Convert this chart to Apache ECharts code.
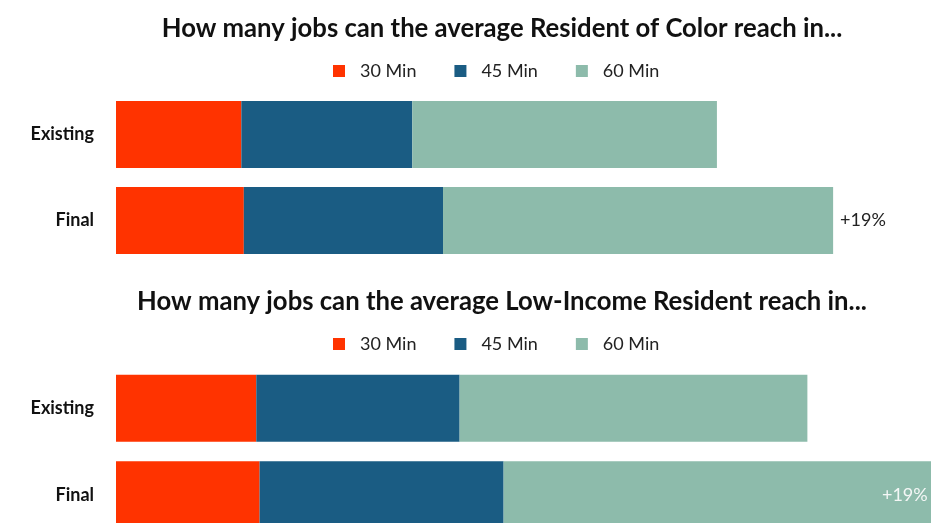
<!DOCTYPE html>
<html>
<head>
<meta charset="utf-8">
<script src="https://cdn.jsdelivr.net/npm/echarts@6/dist/echarts.min.js"></script>
<style>
  html, body { margin: 0; padding: 0; background: #fff; }
  #chart { width: 931px; height: 523px; }
</style>
</head>
<body>
<div id="chart"></div>
<script>
// Jobs reachable (thousands) by travel time, for two resident groups
const categories = ['Existing', 'Final'];
const seriesNames = ['30 Min', '45 Min', '60 Min'];

const colorMin30 = [151, 154];
const colorMin45 = [206, 240];
const colorMin60 = [367, 470];

const incomeMin30 = [169, 173];
const incomeMin45 = [245, 294];
const incomeMin60 = [419, 523];

const growthLabel = '+19%';

const titles = [
  'How many jobs can the average Resident of Color reach in...',
  'How many jobs can the average Low-Income Resident reach in...'
];

const colors = ['#FF3300', '#1A5C83', '#8DBBAB'];
const FONT = 'Lato, "Open Sans", sans-serif';

function stackSeries(idx, values, labelCfg) {
  return seriesNames.map((name, i) => {
    const s = {
      name: name,
      type: 'bar',
      stack: 'jobs' + idx,
      xAxisIndex: idx,
      yAxisIndex: idx,
      barWidth: 67,
      clip: false,
      itemStyle: { color: colors[i] },
      emphasis: { disabled: true },
      data: values[i].slice()
    };
    if (i === 2) {
      s.data = values[i].map((v, k) => {
        if (k !== 1) return v;
        return { value: v, label: Object.assign({ show: true, formatter: growthLabel,
          fontFamily: FONT, fontSize: 18 }, labelCfg) };
      });
    }
    return s;
  });
}

const chart = echarts.init(document.getElementById('chart'), null, { renderer: 'canvas' });

const axisMax = 900;
const legendText = { fontFamily: FONT, fontSize: 18, color: '#222', padding: [0, 0, 0, 10] };
const titleText = { fontFamily: FONT, fontWeight: 'bold', fontSize: 25.7, color: '#111' };

chart.setOption({
  animation: false,
  backgroundColor: '#ffffff',
  title: [
    { text: titles[0], left: 497, textAlign: 'center', top: 11, textStyle: titleText },
    { text: titles[1], left: 497, textAlign: 'center', top: 284, textStyle: titleText }
  ],
  legend: [
    { data: seriesNames, top: 57, left: 328, icon: 'rect', itemWidth: 12, itemHeight: 12,
      itemGap: 38, textStyle: legendText },
    { data: seriesNames, top: 330, left: 328, icon: 'rect', itemWidth: 12, itemHeight: 12,
      itemGap: 38, textStyle: legendText }
  ],
  grid: [
    { left: 116, width: 747, top: 91.5, height: 172, outerBoundsMode: 'none' },
    { left: 116, width: 747, top: 365, height: 173, outerBoundsMode: 'none' }
  ],
  xAxis: [0, 1].map(i => ({
    type: 'value', gridIndex: i, min: 0, max: axisMax, interval: 100,
    axisLine: { show: false }, axisTick: { show: false }, axisLabel: { show: false },
    splitLine: { show: false }
  })),
  yAxis: [0, 1].map(i => ({
    type: 'category', gridIndex: i, data: categories, inverse: true,
    axisLine: { show: false }, axisTick: { show: false },
    axisLabel: { fontFamily: FONT, fontSize: 18, fontWeight: 'bold', color: '#111', margin: 22 }
  })),
  series: [].concat(
    stackSeries(0, [colorMin30, colorMin45, colorMin60],
      { position: 'right', distance: 7, color: '#222' }),
    stackSeries(1, [incomeMin30, incomeMin45, incomeMin60],
      { position: 'insideRight', distance: 10, color: '#f4f7f6' })
  )
});
</script>
</body>
</html>
